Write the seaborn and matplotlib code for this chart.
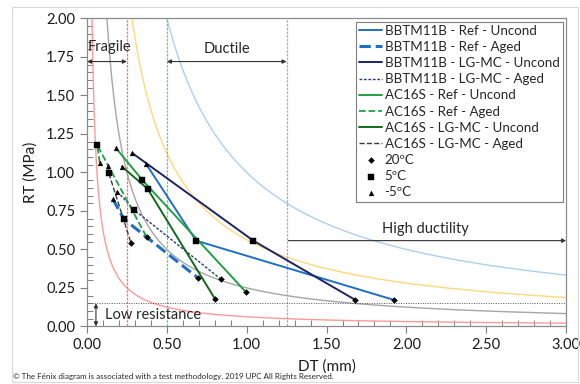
import numpy as np
import seaborn as sns
import matplotlib.pyplot as plt
from matplotlib.patches import Rectangle

# series: DT (mm) / RT (MPa) at -5ºC, 5ºC, 20ºC
names = [
    "BBTM11B - Ref - Uncond",
    "BBTM11B - Ref - Aged",
    "BBTM11B - LG-MC - Uncond",
    "BBTM11B - LG-MC - Aged",
    "AC16S - Ref - Uncond",
    "AC16S - Ref - Aged",
    "AC16S - LG-MC - Uncond",
    "AC16S - LG-MC - Aged",
]
dt_vals = [
    [0.369, 0.683, 1.922],
    [0.161, 0.232, 0.697],
    [0.284, 1.041, 1.680],
    [0.190, 0.296, 0.837],
    [0.182, 0.346, 0.996],
    [0.080, 0.064, 0.374],
    [0.219, 0.380, 0.801],
    [0.131, 0.136, 0.276],
]
rt_vals = [
    [1.057, 0.557, 0.172],
    [0.828, 0.696, 0.313],
    [1.125, 0.557, 0.172],
    [0.875, 0.756, 0.308],
    [1.157, 0.951, 0.222],
    [1.062, 1.177, 0.579],
    [1.038, 0.893, 0.179],
    [1.040, 0.997, 0.540],
]
colors = ["#1f6fc5", "#1f6fc5", "#1c2466", "#2e3a7a",
          "#1fa045", "#1fa045", "#116b1c", "#3a3a3a"]
styles = ["-", "--", "-", (0, (2, 1.2)), "-", "--", "-", "--"]
widths = [1.4, 2.2, 1.4, 1.0, 1.4, 1.3, 1.4, 1.0]

temps = ["20ºC", "5ºC", "-5ºC"]
temp_idx = [2, 1, 0]
temp_markers = ["D", "s", "^"]
temp_sizes = [9, 20, 12]

# Fénix reference curves RT = k / DT
curve_k = [0.0625, 0.25, 0.5625, 1.0]
curve_colors = ["#ff9a9a", "#a6a6a6", "#ffd97a", "#add0f2"]

vlines_x = [0.25, 0.5, 1.25]
vlines_c = ["#ff6f6f", "#5fc98f", "#c592e6"]
low_rt = 0.15

sns.set_style("white")
plt.rcParams["font.family"] = ["Lato", "DejaVu Sans"]

fig = plt.figure(figsize=(5.8, 3.84), dpi=100)
ax = fig.add_axes([0.15, 0.15, 0.826, 0.802])

xs = np.linspace(0.01, 3.0, 600)
for k, c in zip(curve_k, curve_colors):
    ax.plot(xs, k / xs, color=c, lw=1.0, zorder=1)

for x, c in zip(vlines_x, vlines_c):
    ax.axvline(x, color=c, lw=0.9, ls=(0, (2, 1)), zorder=1)
ax.axhline(low_rt, color="#555555", lw=0.7, ls=(0, (1, 1.5)), zorder=1)

for n, dx, ry, c, s, w in zip(names, dt_vals, rt_vals, colors, styles, widths):
    sns.lineplot(x=dx, y=ry, sort=False, ax=ax, color=c, linestyle=s,
                 lw=w, label=n, zorder=3)

for t, i, m, sz in zip(temps, temp_idx, temp_markers, temp_sizes):
    px = [d[i] for d in dt_vals]
    py = [r[i] for r in rt_vals]
    sns.scatterplot(x=px, y=py, ax=ax, marker=m, s=sz, color="black",
                    edgecolor="black", linewidth=0.3, label=t, zorder=4)

# zone annotations
arw = dict(arrowstyle="<|-|>", color="#333333", lw=0.8,
           mutation_scale=6, shrinkA=0, shrinkB=0)
ax.annotate("", xy=(0.0, 1.72), xytext=(0.25, 1.72), arrowprops=arw)
ax.annotate("", xy=(0.5, 1.72), xytext=(1.25, 1.72), arrowprops=arw)
ax.annotate("", xy=(0.056, 0.0), xytext=(0.056, low_rt), arrowprops=arw)
ax.annotate("", xy=(3.0, 0.557), xytext=(1.26, 0.557),
            arrowprops=dict(arrowstyle="-|>", color="#333333", lw=0.8,
                            mutation_scale=6, shrinkA=0, shrinkB=0))
ax.text(0.005, 1.815, "Fragile", fontsize=10.5, va="center", ha="left", color="#262626")
ax.text(0.877, 1.80, "Ductile", fontsize=10.5, va="center", ha="center", color="#262626")
ax.text(2.12, 0.63, "High ductility", fontsize=10.5, va="center", ha="center", color="#262626")
ax.text(0.11, 0.075, "Low resistance", fontsize=10.5, va="center", ha="left", color="#262626")

ax.set_xlim(0, 3.0)
ax.set_ylim(0, 2.0)
ax.set_xticks(np.arange(0, 3.01, 0.5))
ax.set_yticks(np.arange(0, 2.01, 0.25))
ax.set_xticks(np.arange(0, 3.01, 0.1), minor=True)
ax.set_yticks(np.arange(0, 2.01, 0.05), minor=True)
ax.xaxis.set_major_formatter(plt.FormatStrFormatter("%.2f"))
ax.yaxis.set_major_formatter(plt.FormatStrFormatter("%.2f"))
ax.tick_params(which="major", direction="out", length=5, width=0.8,
               color="#7f7f7f", labelsize=10.5, labelcolor="#1a1a1a",
               bottom=True, left=True)
ax.tick_params(which="minor", direction="in", length=4, width=0.7,
               color="#7f7f7f", bottom=True, left=True)
for sp in ax.spines.values():
    sp.set_color("#8c8c8c")
    sp.set_linewidth(0.9)

ax.set_xlabel("DT (mm)", fontsize=11, color="#1a1a1a", labelpad=5)
ax.set_ylabel("RT (MPa)", fontsize=11, color="#1a1a1a", labelpad=6)

leg = ax.legend(loc="upper right", bbox_to_anchor=(0.993, 0.99),
                fontsize=9.6, frameon=True, fancybox=False, edgecolor="#7f7f7f",
                framealpha=1, handlelength=1.7, handletextpad=0.2,
                labelspacing=0.31, borderpad=0.25, borderaxespad=0)
leg.get_frame().set_linewidth(0.8)

fig.patches.append(Rectangle((0.021, 0.006), 0.976, 0.976, transform=fig.transFigure,
                             fill=False, edgecolor="#d9d9d9", lw=0.8))
fig.text(0.022, 0.02, "© The Fénix diagram is associated with a test methodology. "
         "2019 UPC All Rights Reserved.", fontsize=5.8, color="#262626",
         ha="left", va="center")

fig.savefig("out.png", dpi=100)
